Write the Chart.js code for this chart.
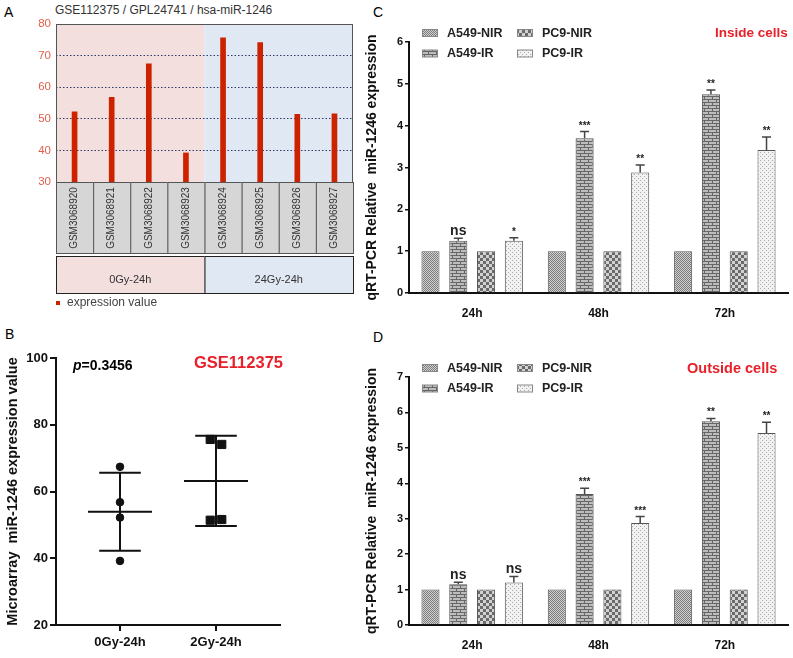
<!DOCTYPE html>
<html>
<head>
<meta charset="utf-8">
<script src="https://cdn.jsdelivr.net/npm/chart.js@4.4.1/dist/chart.umd.min.js"></script>
<style>
  body { margin: 0; background: #fff; width: 793px; height: 658px; position: relative; overflow: hidden;
         font-family: Arial, "Liberation Sans", sans-serif; }
  canvas { position: absolute; }
  .t { position: absolute; white-space: nowrap; line-height: 1; }
  .red { color: #e8202a; font-weight: bold; }
</style>
</head>
<body>
<div class="t" style="left:4px;top:5px;font-size:14px">A</div>
<div class="t" style="left:55px;top:4px;font-size:12px;color:#333">GSE112375 / GPL24741 / hsa-miR-1246</div>
<div class="t" style="left:5px;top:327px;font-size:14px">B</div>
<div class="t" style="left:373px;top:5px;font-size:14px">C</div>
<div class="t" style="left:373px;top:330px;font-size:14px">D</div>

<canvas id="chartA" width="360" height="320" style="left:0;top:0"></canvas>
<canvas id="chartB" width="360" height="318" style="left:0;top:340px"></canvas>
<canvas id="chartC" width="433" height="330" style="left:360px;top:0"></canvas>
<canvas id="chartD" width="433" height="328" style="left:360px;top:330px"></canvas>

<div class="t" style="left:73px;top:358px;font-size:14px;font-weight:bold"><i>p</i>=0.3456</div>
<div class="t red" style="left:194px;top:354px;font-size:16.5px">GSE112375</div>
<div class="t red" style="left:715px;top:26px;font-size:13.5px">Inside cells</div>
<div class="t red" style="left:687px;top:361px;font-size:14.5px">Outside cells</div>

<script>
// ---- data ----
const samples = ['GSM3068920', 'GSM3068921', 'GSM3068922', 'GSM3068923',
                 'GSM3068924', 'GSM3068925', 'GSM3068926', 'GSM3068927'];
const expression = [52.2, 56.8, 67.4, 39.2, 75.6, 74.1, 51.4, 51.6];
const sampleGroups = ['0Gy-24h', '24Gy-24h'];

const groupsB = ['0Gy-24h', '2Gy-24h'];
const dose0 = [67.4, 56.8, 52.2, 39.2];
const dose2 = [75.6, 74.1, 51.4, 51.6];

const timepoints = ['24h', '48h', '72h'];
const seriesNames = ['A549-NIR', 'A549-IR', 'PC9-NIR', 'PC9-IR'];

// inside cells
const inA549NIR = [1, 1, 1];
const inA549IR = [1.25, 3.70, 4.75];
const inPC9NIR = [1, 1, 1];
const inPC9IR = [1.25, 2.88, 3.42];
const inA549IRerr = [0.06, 0.16, 0.10];
const inPC9IRerr = [0.07, 0.18, 0.31];
const inA549IRsig = ['ns', '***', '**'];
const inPC9IRsig = ['*', '**', '**'];

// outside cells
const outA549NIR = [1, 1, 1];
const outA549IR = [1.15, 3.70, 5.75];
const outPC9NIR = [1, 1, 1];
const outPC9IR = [1.20, 2.88, 5.42];
const outA549IRerr = [0.06, 0.16, 0.08];
const outPC9IRerr = [0.17, 0.18, 0.30];
const outA549IRsig = ['ns', '***', '**'];
const outPC9IRsig = ['ns', '***', '**'];

Chart.defaults.font.family = 'Arial, "Liberation Sans", sans-serif';
Chart.defaults.color = '#111';
Chart.defaults.animation = false;

/*
    Panel A: backgrounds, sample boxes and group boxes
*/
const panelABoxes = {
  id: 'panelABoxes',
  beforeDraw(chart) {
    const {ctx, chartArea: a} = chart;
    const mid = (a.left + a.right) / 2;
    ctx.save();
    ctx.fillStyle = '#f4dfdf';
    ctx.fillRect(a.left, a.top, mid - a.left, a.bottom - a.top);
    ctx.fillStyle = '#dfe8f3';
    ctx.fillRect(mid, a.top, a.right - mid, a.bottom - a.top);
    ctx.restore();
  },
  afterDraw(chart) {
    const {ctx, chartArea: a, scales: {x}} = chart;
    const w = (a.right - a.left) / samples.length;
    ctx.save();
    ctx.strokeStyle = '#555';
    ctx.lineWidth = 1;
    ctx.strokeRect(a.left + 0.5, a.top + 0.5, a.right - a.left - 1, a.bottom - a.top);
    samples.forEach((s, i) => {
      const cx = x.getPixelForValue(i);
      ctx.fillStyle = '#d6d6d6';
      ctx.fillRect(cx - w / 2, a.bottom, w, 71);
      ctx.strokeRect(cx - w / 2 + 0.5, a.bottom + 0.5, w, 71);
      ctx.save();
      ctx.translate(cx, a.bottom + 36);
      ctx.rotate(-Math.PI / 2);
      ctx.fillStyle = '#333';
      ctx.font = '10px Arial, "Liberation Sans", sans-serif';
      ctx.textAlign = 'center';
      ctx.textBaseline = 'middle';
      ctx.fillText(s, 0, 0);
      ctx.restore();
    });
    const per = samples.length / sampleGroups.length;
    const fills = ['#f4dfdf', '#dfe8f3'];
    sampleGroups.forEach((g, i) => {
      const x0 = a.left + i * per * w;
      const top = a.bottom + 74;
      ctx.fillStyle = fills[i];
      ctx.fillRect(x0, top, per * w, 37);
      ctx.strokeStyle = '#222';
      ctx.strokeRect(x0 + 0.5, top + 0.5, per * w, 37);
      ctx.fillStyle = '#333';
      ctx.font = '11px Arial, "Liberation Sans", sans-serif';
      ctx.textAlign = 'center';
      ctx.textBaseline = 'middle';
      ctx.fillText(g, x0 + per * w / 2, top + 24);
    });
    // legend
    ctx.fillStyle = '#cc2200';
    ctx.fillRect(a.left, 301, 4, 4);
    ctx.fillStyle = '#444';
    ctx.font = '12px Arial, "Liberation Sans", sans-serif';
    ctx.textAlign = 'left';
    ctx.textBaseline = 'middle';
    ctx.fillText('expression value', a.left + 11, 303);
    ctx.restore();
  }
};

new Chart(document.getElementById('chartA'), {
  type: 'bar',
  data: {
    labels: samples,
    datasets: [{
      label: 'expression value',
      data: expression,
      backgroundColor: '#cc2200',
      barThickness: 5
    }]
  },
  options: {
    responsive: false,
    layout: {padding: {top: 24, right: 7, bottom: 138, left: 0}},
    plugins: {legend: {display: false}, tooltip: {enabled: false}},
    scales: {
      x: {display: false},
      y: {
        min: 30, max: 80,
        afterFit: s => { s.width = 56; },
        ticks: {stepSize: 10, color: '#e0604c', font: {size: 11.5}, padding: 5},
        border: {display: false, dash: [1.5, 2]},
        grid: {
          drawTicks: false,
          color: c => (c.tick && (c.tick.value === 30 || c.tick.value === 80)) ? 'rgba(0,0,0,0)' : '#2a3a6a'
        }
      }
    }
  },
  plugins: [panelABoxes]
});

/*
    Panel B: scatter with mean and SD
*/
const groupPos = [2, 5];
const jitter2 = [-0.18, 0.18, -0.18, 0.18];

function mean(arr) {
  return arr.reduce((s, v) => s + v, 0) / arr.length;
}
function sd(arr) {
  const m = mean(arr);
  return Math.sqrt(arr.reduce((s, v) => s + (v - m) * (v - m), 0) / (arr.length - 1));
}
function meanSdLine(arr, c) {
  const m = mean(arr), s = sd(arr);
  return [
    {x: c - 1, y: m}, {x: c + 1, y: m}, {x: c + 1, y: null},
    {x: c - 0.65, y: m + s}, {x: c + 0.65, y: m + s}, {x: c + 0.65, y: null},
    {x: c - 0.65, y: m - s}, {x: c + 0.65, y: m - s}, {x: c + 0.65, y: null},
    {x: c, y: m - s}, {x: c, y: m + s}
  ];
}
const lineStyle = {showLine: true, pointRadius: 0, borderColor: '#111', borderWidth: 2, spanGaps: false};

new Chart(document.getElementById('chartB'), {
  type: 'scatter',
  data: {
    datasets: [
      {data: dose0.map(v => ({x: groupPos[0], y: v})), pointStyle: 'circle', pointRadius: 3.8,
       backgroundColor: '#111', borderColor: '#111'},
      {data: dose2.map((v, i) => ({x: groupPos[1] + jitter2[i], y: v})), pointStyle: 'rect', pointRadius: 5.8,
       backgroundColor: '#111', borderColor: '#111'},
      Object.assign({data: meanSdLine(dose0, groupPos[0])}, lineStyle),
      Object.assign({data: meanSdLine(dose2, groupPos[1])}, lineStyle)
    ]
  },
  options: {
    responsive: false,
    layout: {padding: {top: 18, right: 80, bottom: 0, left: 4}},
    plugins: {legend: {display: false}, tooltip: {enabled: false}},
    scales: {
      x: {
        type: 'linear', min: 0, max: 7,
        afterFit: s => { s.height = 33; },
        afterBuildTicks: s => { s.ticks = groupPos.map(v => ({value: v})); },
        ticks: {
          callback: v => groupsB[groupPos.indexOf(v)],
          font: {size: 13, weight: 'bold'}, color: '#111', padding: 4
        },
        border: {color: '#111', width: 2},
        grid: {drawOnChartArea: false, tickLength: 6, color: '#111', lineWidth: 2}
      },
      y: {
        min: 20, max: 100,
        afterFit: s => { s.width = 52; },
        ticks: {stepSize: 20, font: {size: 13, weight: 'bold'}, color: '#111', padding: 2},
        border: {color: '#111', width: 2},
        grid: {drawOnChartArea: false, tickLength: 6, color: '#111', lineWidth: 2},
        title: {display: true, text: 'Microarray  miR-1246 expression value',
                font: {size: 14.5, weight: 'bold'}, color: '#111', padding: 0}
      }
    }
  }
});

/*
    Panels C and D: grouped patterned bars
*/
function makePattern(kind) {
  const c = document.createElement('canvas');
  const g = c.getContext('2d');
  if (kind === 'fine') {
    c.width = c.height = 2;
    g.fillStyle = '#d0d0d0'; g.fillRect(0, 0, 2, 2);
    g.fillStyle = '#7c7c7c'; g.fillRect(0, 0, 1, 1); g.fillRect(1, 1, 1, 1);
  } else if (kind === 'brick') {
    c.width = 8; c.height = 6;
    g.fillStyle = '#bdbdbd'; g.fillRect(0, 0, 8, 6);
    g.fillStyle = '#666';
    g.fillRect(0, 0, 8, 1); g.fillRect(0, 3, 8, 1);
    g.fillRect(0, 0, 1, 3); g.fillRect(4, 3, 1, 3);
  } else if (kind === 'checker') {
    c.width = c.height = 6;
    g.fillStyle = '#d2d2d2'; g.fillRect(0, 0, 6, 6);
    g.fillStyle = '#6a6a6a'; g.fillRect(0, 0, 3, 3); g.fillRect(3, 3, 3, 3);
  } else {
    c.width = c.height = 4;
    g.fillStyle = '#f2f2f2'; g.fillRect(0, 0, 4, 4);
    g.fillStyle = '#a8a8a8'; g.fillRect(0, 0, 1, 1); g.fillRect(2, 2, 1, 1);
  }
  return g.createPattern(c, 'repeat');
}
const patterns = [makePattern('fine'), makePattern('brick'), makePattern('checker'), makePattern('light')];

const errPlugin = {
  id: 'errPlugin',
  afterDatasetsDraw(chart) {
    const ctx = chart.ctx, y = chart.scales.y;
    chart.data.datasets.forEach((ds, i) => {
      if (!ds.err) return;
      chart.getDatasetMeta(i).data.forEach((bar, j) => {
        const top = y.getPixelForValue(ds.data[j] + ds.err[j]);
        ctx.save();
        ctx.strokeStyle = '#444';
        ctx.lineWidth = 1.5;
        ctx.beginPath();
        ctx.moveTo(bar.x, bar.y);
        ctx.lineTo(bar.x, top);
        ctx.moveTo(bar.x - 4.5, top);
        ctx.lineTo(bar.x + 4.5, top);
        ctx.stroke();
        const s = ds.sig[j];
        ctx.fillStyle = '#222';
        ctx.textAlign = 'center';
        ctx.textBaseline = 'alphabetic';
        ctx.font = s === 'ns' ? 'bold 14px Arial, "Liberation Sans", sans-serif'
                              : 'bold 10px Arial, "Liberation Sans", sans-serif';
        ctx.fillText(s, bar.x, top - 3);
        ctx.restore();
      });
    });
  }
};

const legendPlugin = {
  id: 'legendPlugin',
  afterDraw(chart) {
    const ctx = chart.ctx, a = chart.chartArea;
    ctx.save();
    chart.data.datasets.forEach((ds, i) => {
      const col = i >> 1, row = i % 2;
      const x = 62 + col * 95;
      const y = a.top - 9 + row * 20.5;
      ctx.fillStyle = ds.backgroundColor;
      ctx.fillRect(x, y - 3.5, 15, 7);
      ctx.strokeStyle = '#888';
      ctx.lineWidth = 1;
      ctx.strokeRect(x + 0.5, y - 3.5, 15, 7);
      ctx.fillStyle = '#222';
      ctx.font = 'bold 12.5px Arial, "Liberation Sans", sans-serif';
      ctx.textAlign = 'left';
      ctx.textBaseline = 'middle';
      ctx.fillText(ds.label, x + 25, y + 0.5);
    });
    ctx.restore();
  }
};

function setBarChart(id, series, errs, sigs, ymax, topPad, xHeight) {
  new Chart(document.getElementById(id), {
    type: 'bar',
    data: {
      labels: timepoints,
      datasets: series.map((d, i) => ({
        label: seriesNames[i],
        data: d,
        err: errs[i],
        sig: sigs[i],
        backgroundColor: patterns[i],
        borderColor: '#555',
        borderWidth: 1,
        categoryPercentage: 0.88,
        barPercentage: 0.65
      }))
    },
    options: {
      responsive: false,
      layout: {padding: {top: topPad, right: 5, bottom: 0, left: 4}},
      plugins: {legend: {display: false}, tooltip: {enabled: false}},
      scales: {
        x: {
          afterFit: s => { s.height = xHeight; },
          ticks: {font: {size: 12, weight: 'bold'}, color: '#111', padding: 5},
          border: {color: '#111', width: 2},
          grid: {display: false}
        },
        y: {
          min: 0, max: ymax,
          afterFit: s => { s.width = 45; },
          ticks: {stepSize: 1, font: {size: 11, weight: 'bold'}, color: '#111', padding: 2},
          border: {color: '#111', width: 2},
          grid: {drawOnChartArea: false, tickLength: 4, color: '#111', lineWidth: 1.5},
          title: {display: true, text: 'qRT-PCR Relative  miR-1246 expression',
                  font: {size: 14, weight: 'bold'}, color: '#111', padding: 0}
        }
      }
    },
    plugins: [errPlugin, legendPlugin]
  });
}

setBarChart('chartC',
  [inA549NIR, inA549IR, inPC9NIR, inPC9IR],
  [null, inA549IRerr, null, inPC9IRerr],
  [null, inA549IRsig, null, inPC9IRsig],
  6, 42, 37);

setBarChart('chartD',
  [outA549NIR, outA549IR, outPC9NIR, outPC9IR],
  [null, outA549IRerr, null, outPC9IRerr],
  [null, outA549IRsig, null, outPC9IRsig],
  7, 47, 33);
</script>
</body>
</html>
